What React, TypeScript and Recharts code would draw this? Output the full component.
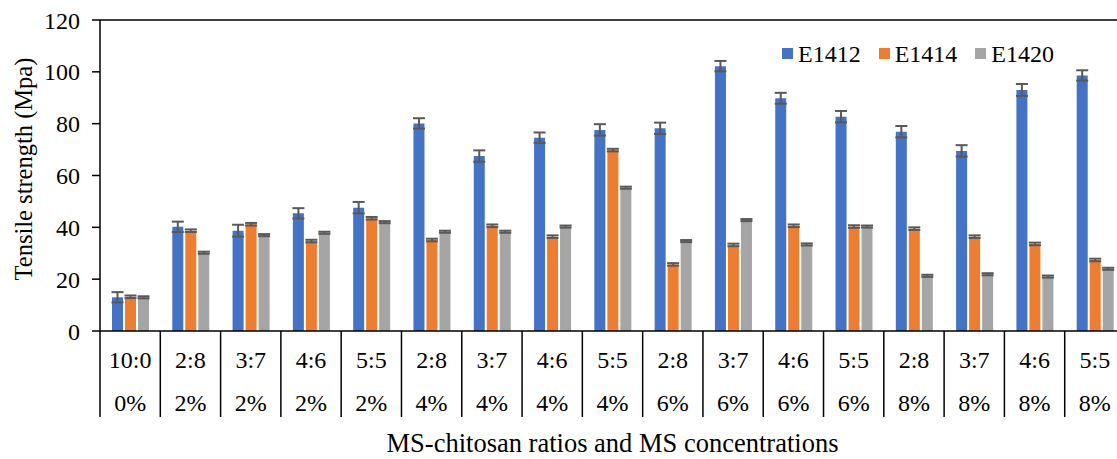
import { BarChart, Bar, XAxis, YAxis, ErrorBar, ReferenceLine } from "recharts";

const ratios = ["10:0", "2:8", "3:7", "4:6", "5:5", "2:8", "3:7", "4:6", "5:5", "2:8", "3:7", "4:6", "5:5", "2:8", "3:7", "4:6", "5:5"];
const concs = ["0%", "2%", "2%", "2%", "2%", "4%", "4%", "4%", "4%", "6%", "6%", "6%", "6%", "8%", "8%", "8%", "8%"];

const e1412 = [13.0, 40.2, 38.7, 45.4, 47.6, 80.1, 67.5, 74.6, 77.6, 78.2, 102.2, 89.8, 82.7, 76.9, 69.5, 93.0, 98.6];
const e1414 = [13.2, 38.7, 41.2, 34.7, 43.5, 35.1, 40.6, 36.4, 69.8, 25.7, 33.2, 40.6, 40.3, 39.5, 36.4, 33.6, 27.4];
const e1420 = [13.0, 30.2, 37.0, 37.9, 42.0, 38.3, 38.3, 40.3, 55.3, 34.7, 42.8, 33.4, 40.3, 21.3, 21.9, 21.0, 24.0];

const err1412 = [2.0, 2.0, 2.3, 2.0, 2.2, 2.0, 2.2, 2.0, 2.2, 2.2, 2.0, 2.1, 2.2, 2.2, 2.2, 2.3, 2.0];
const err1414 = [0.5, 0.5, 0.5, 0.5, 0.5, 0.5, 0.5, 0.5, 0.5, 0.5, 0.5, 0.5, 0.5, 0.5, 0.5, 0.5, 0.5];
const err1420 = [0.4, 0.4, 0.4, 0.4, 0.4, 0.4, 0.4, 0.4, 0.4, 0.4, 0.4, 0.4, 0.4, 0.4, 0.4, 0.4, 0.4];

const yTicks = [0, 20, 40, 60, 80, 100, 120];

const series = [
  { key: "E1412", err: "err1412", color: "#4472C4" },
  { key: "E1414", err: "err1414", color: "#ED7D31" },
  { key: "E1420", err: "err1420", color: "#A5A5A5" },
];

const data = ratios.map((r, i) => ({
  id: `${r} ${concs[i]}`,
  E1412: e1412[i],
  E1414: e1414[i],
  E1420: e1420[i],
  err1412: err1412[i],
  err1414: err1414[i],
  err1420: err1420[i],
}));

const FONT = '"Liberation Serif", "Times New Roman", serif';
const W = 1135;
const H = 459;
const M = { top: 20, right: 10, bottom: 0, left: 40 };
const Y_W = 60;
const BAND = (W - M.left - M.right - Y_W) / ratios.length;

function CatTick(props: any) {
  const { x, y, index } = props;
  return (
    <g>
      <text x={x} y={y + 37} textAnchor="middle" fontSize={24} fontFamily={FONT} fill="#000">
        {ratios[index]}
      </text>
      <text x={x} y={y + 79.5} textAnchor="middle" fontSize={24} fontFamily={FONT} fill="#000">
        {concs[index]}
      </text>
      <line x1={x + BAND / 2} x2={x + BAND / 2} y1={y} y2={y + 86} stroke="#000" strokeWidth={1.5} />
      {index === 0 && (
        <line x1={x - BAND / 2} x2={x - BAND / 2} y1={y} y2={y + 86} stroke="#000" strokeWidth={1.5} />
      )}
    </g>
  );
}

export default function App() {
  return (
    <div style={{ position: "absolute", left: 0, top: 0, width: 1117, height: H, overflow: "hidden", background: "#fff" }}>
      <BarChart width={W} height={H} data={data} margin={M} barSize={11} barGap={2}>
        <XAxis
          dataKey="id"
          height={128}
          interval={0}
          tickSize={0}
          tickMargin={0}
          tickLine={false}
          tick={<CatTick />}
          axisLine={{ stroke: "#000", strokeWidth: 1.5 }}
          label={{
            value: "MS-chitosan ratios and MS concentrations",
            position: "insideBottom",
            offset: 7,
            fontSize: 26.5,
            fontFamily: FONT,
            fill: "#000",
          }}
        />
        <YAxis
          width={Y_W}
          domain={[0, 120]}
          ticks={yTicks}
          interval={0}
          tickSize={8}
          tickMargin={12}
          tick={{ fontSize: 24, fontFamily: FONT, fill: "#000" }}
          tickLine={{ stroke: "#000", strokeWidth: 1.5 }}
          axisLine={{ stroke: "#000", strokeWidth: 1.5 }}
          label={{
            content: () => (
              <text
                x={32}
                y={169}
                transform="rotate(-90 32 169)"
                textAnchor="middle"
                fontSize={24.5}
                fontFamily={FONT}
                fill="#000"
              >
                Tensile strength (Mpa)
              </text>
            ),
          }}
        />
        <ReferenceLine y={120} stroke="#000" strokeWidth={1.5} />
        {series.map((s) => (
          <Bar key={s.key} dataKey={s.key} fill={s.color} isAnimationActive={false}>
            <ErrorBar dataKey={s.err} width={6} stroke="#595959" strokeWidth={2} isAnimationActive={false} />
          </Bar>
        ))}
      </BarChart>
      <div
        style={{
          position: "absolute",
          top: 41.5,
          left: 782,
          display: "flex",
          alignItems: "center",
          fontFamily: FONT,
          fontSize: 24,
          lineHeight: "24px",
          color: "#000",
        }}
      >
        {series.map((s) => (
          <div key={s.key} style={{ display: "flex", alignItems: "center", marginRight: 18 }}>
            <span style={{ display: "inline-block", width: 11, height: 11, background: s.color, marginRight: 5 }} />
            <span>{s.key}</span>
          </div>
        ))}
      </div>
    </div>
  );
}
